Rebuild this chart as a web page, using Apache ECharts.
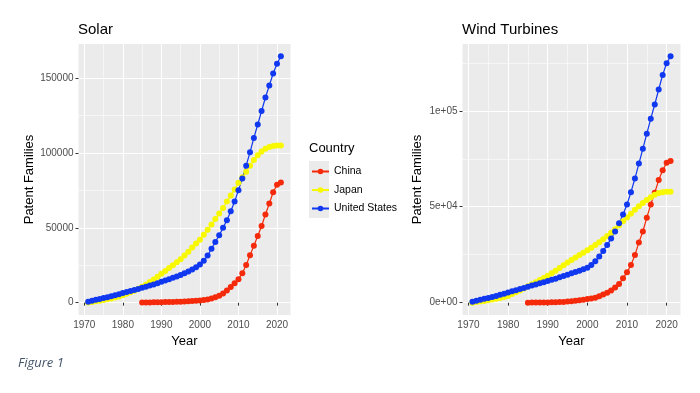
<!DOCTYPE html>
<html>
<head>
<meta charset="utf-8">
<script src="https://cdn.jsdelivr.net/npm/echarts@6/dist/echarts.min.js"></script>
<style>
html,body{margin:0;padding:0;background:#fff;}
#c{width:700px;height:393px;}
</style>
</head>
<body>
<div id="c"></div>
<script>
const years = [1971,1972,1973,1974,1975,1976,1977,1978,1979,1980,1981,1982,1983,1984,1985,1986,1987,1988,1989,1990,1991,1992,1993,1994,1995,1996,1997,1998,1999,2000,2001,2002,2003,2004,2005,2006,2007,2008,2009,2010,2011,2012,2013,2014,2015,2016,2017,2018,2019,2020,2021];
const chinaYears = [1985,1986,1987,1988,1989,1990,1991,1992,1993,1994,1995,1996,1997,1998,1999,2000,2001,2002,2003,2004,2005,2006,2007,2008,2009,2010,2011,2012,2013,2014,2015,2016,2017,2018,2019,2020,2021];
const countries = ['China','Japan','United States'];
const xTicks = [1970,1980,1990,2000,2010,2020];
const solarYTicks = [0,50000,100000,150000];
const windYTicks = [0,50000,100000];

const solarUS = [700,1300,1900,2500,3100,3700,4300,5000,5700,6400,7100,7800,8500,9200,9900,10600,11400,12200,13000,13900,14800,15700,16600,17500,18500,19600,20800,22100,23600,25500,28000,31500,36000,40500,45000,50000,55000,61000,67500,75000,83000,91500,100500,110000,119000,128000,137000,145000,153000,159500,164500];
const solarJapan = [200,500,900,1300,1800,2300,2800,3400,4200,5000,5900,6900,8000,9300,10700,12200,13800,15500,17300,19300,21200,23100,25000,27000,29000,31500,34000,36800,39500,42000,45300,48700,52200,55800,59500,63200,67500,71500,75500,80000,83800,87500,91500,95200,98500,101000,102800,104000,104600,104900,105000];
const solarChina = [100,150,200,250,300,350,400,450,500,550,650,750,900,1050,1250,1500,1800,2200,2800,3600,4700,6200,8200,10500,13000,15700,19700,25200,31700,38000,44500,51200,58900,66200,73700,78800,80200];

const windUS = [500,1000,1500,2000,2500,3000,3500,4100,4700,5300,5900,6500,7100,7700,8300,8900,9500,10100,10700,11300,11900,12500,13200,13900,14600,15300,16000,16700,17400,18200,19600,21600,24100,27000,30100,33400,37100,41400,46000,51200,57600,64700,72500,80200,88100,95900,103300,111100,118700,124800,128400];
const windJapan = [0,300,600,900,1300,1700,2100,2500,3000,3500,4500,5400,6400,7400,8500,9600,10700,11800,12900,14000,15300,16700,18100,19500,20900,22200,23500,24800,26000,27300,28600,30000,31500,33100,34800,36500,38300,40300,42400,44400,46400,48400,50300,52000,53500,55000,56200,57100,57600,57800,57800];
const windChina = [20,40,60,90,120,150,200,250,320,400,600,800,1000,1250,1550,1900,2200,2600,3300,4200,5200,6400,7900,9800,12700,15800,19600,24800,31400,37100,44300,51200,57300,63900,69000,72900,73900];

const colors = {'China':'#f52a0a','Japan':'#f8f800','United States':'#1038f0'};

function pairs(xs, ys){ return xs.map((x,i)=>[x, ys[i]]); }

const chart = echarts.init(document.getElementById('c'), null, {renderer:'canvas'});
const FONT = 'Liberation Sans, Arial, sans-serif';

function xAxisFor(gi){
  return {
    type:'value', gridIndex:gi, min:1968.5, max:2023.5, splitNumber:5,
    name:'Year', nameLocation:'middle', nameGap:17,
    nameTextStyle:{color:'#000', fontSize:13, fontFamily:FONT},
    axisLine:{show:false},
    axisTick:{show:true, length:3, lineStyle:{color:'#333', width:1}, customValues:xTicks},
    axisLabel:{color:'#4d4d4d', fontSize:10, fontFamily:FONT, margin:5, customValues:xTicks, formatter:v=>String(v)},
    splitLine:{show:true, lineStyle:{color:'#ffffff', width:1.1}},
    minorTick:{show:false, splitNumber:2},
    minorSplitLine:{show:true, lineStyle:{color:'#ffffff', width:0.55}}
  };
}
function yAxisFor(gi, min, max, split, ticks, fmt, gap){
  return {
    type:'value', gridIndex:gi, min:min, max:max, splitNumber:split,
    name:'Patent Families', nameLocation:'middle', nameGap:gap,
    nameTextStyle:{color:'#000', fontSize:13, fontFamily:FONT},
    axisLine:{show:false},
    axisTick:{show:true, length:3, lineStyle:{color:'#333', width:1}, customValues:ticks},
    axisLabel:{color:'#4d4d4d', fontSize:10, fontFamily:FONT, margin:5, customValues:ticks, formatter:fmt},
    splitLine:{show:true, lineStyle:{color:'#ffffff', width:1.1}},
    minorTick:{show:false, splitNumber:2},
    minorSplitLine:{show:true, lineStyle:{color:'#ffffff', width:0.55}}
  };
}
function sci(v){
  let s = Number(v).toExponential(0);
  return s.replace(/e([+-])(\d)$/, 'e$10$2');
}

function mkSeries(name, xi, data){
  return {
    name:name, type:'line', xAxisIndex:xi, yAxisIndex:xi, data:data,
    symbol:'circle', symbolSize:6, showSymbol:true,
    lineStyle:{color:colors[name], width:1.2},
    itemStyle:{color:colors[name]},
    emphasis:{disabled:true}, animation:false, clip:false
  };
}

const series = [
  mkSeries('China', 0, pairs(chinaYears, solarChina)),
  mkSeries('Japan', 0, pairs(years, solarJapan)),
  mkSeries('United States', 0, pairs(years, solarUS)),
  mkSeries('China', 1, pairs(chinaYears, windChina)),
  mkSeries('Japan', 1, pairs(years, windJapan)),
  mkSeries('United States', 1, pairs(years, windUS))
];

chart.setOption({
  backgroundColor:'#ffffff',
  animation:false,
  textStyle:{fontFamily:FONT},
  title:[
    {text:'Solar', left:78, top:22, padding:0, textStyle:{fontSize:15, fontWeight:'normal', color:'#000', fontFamily:FONT}},
    {text:'Wind Turbines', left:462, top:22, padding:0, textStyle:{fontSize:15, fontWeight:'normal', color:'#000', fontFamily:FONT}},
    {text:'Figure 1', left:18, top:357, padding:0, textStyle:{fontSize:13, fontWeight:'normal', fontStyle:'italic', color:'#44546a', fontFamily:'Open Sans, sans-serif'}}
  ],
  grid:[
    {left:78.5, top:44, width:212, height:271, show:true, backgroundColor:'#ebebeb', borderWidth:0},
    {left:462.5, top:44, width:218, height:271, show:true, backgroundColor:'#ebebeb', borderWidth:0}
  ],
  legend:{
    data:countries, orient:'vertical', left:311, top:166, padding:0,
    itemWidth:17, itemHeight:7, itemGap:7.5,
    textStyle:{color:'#000', fontSize:10.5, fontFamily:FONT},
    selectedMode:false
  },
  graphic:[
    {type:'text', left:309, top:142, style:{text:'Country', fontSize:13, fill:'#000', fontFamily:FONT}},
    {type:'rect', left:309, top:161, shape:{width:20, height:57}, style:{fill:'#ebebeb'}, z:-1}
  ],
  xAxis:[xAxisFor(0), xAxisFor(1)],
  yAxis:[
    yAxisFor(0, -8225, 172725, 4, solarYTicks, v=>String(v), 43),
    yAxisFor(1, -6420, 134820, 3, windYTicks, sci, 39)
  ],
  series:series
});
</script>
</body>
</html>
